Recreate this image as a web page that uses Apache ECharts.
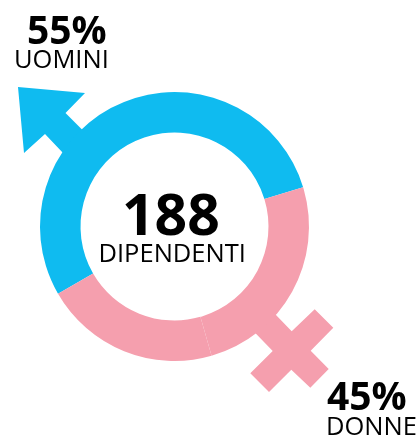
<!DOCTYPE html>
<html>
<head>
<meta charset="utf-8">
<style>
html, body { margin: 0; padding: 0; background: #fff; }
#main { width: 419px; height: 435px; }
</style>
<script src="https://cdn.jsdelivr.net/npm/echarts@6/dist/echarts.min.js"></script>
</head>
<body>
<div id="main"></div>
<script>
// shares of the ring as drawn (the pink part is two slices), in degrees
const sliceNames = ["Uomini", "Donne A", "Donne B"];
const sliceValues = [193, 76, 91];
const sliceColors = ["#0fbbf0", "#f59fae", "#f59fae"];

const menPercent = "55%";
const menLabel = "UOMINI";
const womenPercent = "45%";
const womenLabel = "DONNE";
const totalValue = "188";
const totalLabel = "DIPENDENTI";

const font = '"Open Sans", sans-serif';

function bigText(text, x, y, size) {
    return {
        type: "text",
        x: x,
        y: y,
        style: { text: text, font: "700 " + size + "px " + font, fill: "#000", textAlign: "left", textVerticalAlign: "top" },
    };
}
function smallText(text, x, y, size) {
    return {
        type: "text",
        x: x,
        y: y,
        style: { text: text, font: "400 " + size + "px " + font, fill: "#000", textAlign: "left", textVerticalAlign: "top" },
    };
}

let chart = echarts.init(document.getElementById("main"), null, { renderer: "canvas" });
chart.setOption({
    animation: false,
    graphic: [
        {
            // arrow of the male symbol
            type: "polygon",
            z: 1,
            shape: { points: [[18, 87], [85, 93], [65.5, 113], [95, 142.5], [75, 165], [63, 153], [45, 134], [24, 153]] },
            style: { fill: sliceColors[0] },
        },
        {
            // cross of the female symbol
            type: "polygon",
            z: 1,
            shape: {
                points: [[262, 301], [276, 315], [291.7, 331.3], [314.7, 309.3], [333.3, 327.7], [310.7, 350.7], [328.7, 369],
                    [310.3, 387.7], [291.3, 369.7], [269, 392], [250.3, 373.3], [272.7, 351], [256, 333.7], [240, 317]],
            },
            style: { fill: sliceColors[1] },
        },
        bigText(menPercent, 27, 13, 39),
        smallText(menLabel, 14, 48, 25.5),
        bigText(totalValue, 122, 190, 57),
        smallText(totalLabel, 98.5, 242, 25.5),
        bigText(womenPercent, 327, 379, 39),
        smallText(womenLabel, 326, 415, 25.5),
    ],
    series: [
        {
            type: "pie",
            silent: true,
            z: 2,
            center: [174.5, 226.5],
            radius: [94, 134.5],
            startAngle: 17,
            clockwise: false,
            label: { show: false },
            labelLine: { show: false },
            data: sliceNames.map((name, i) => ({
                name: name,
                value: sliceValues[i],
                itemStyle: { color: sliceColors[i] },
            })),
        },
    ],
});
</script>
</body>
</html>
